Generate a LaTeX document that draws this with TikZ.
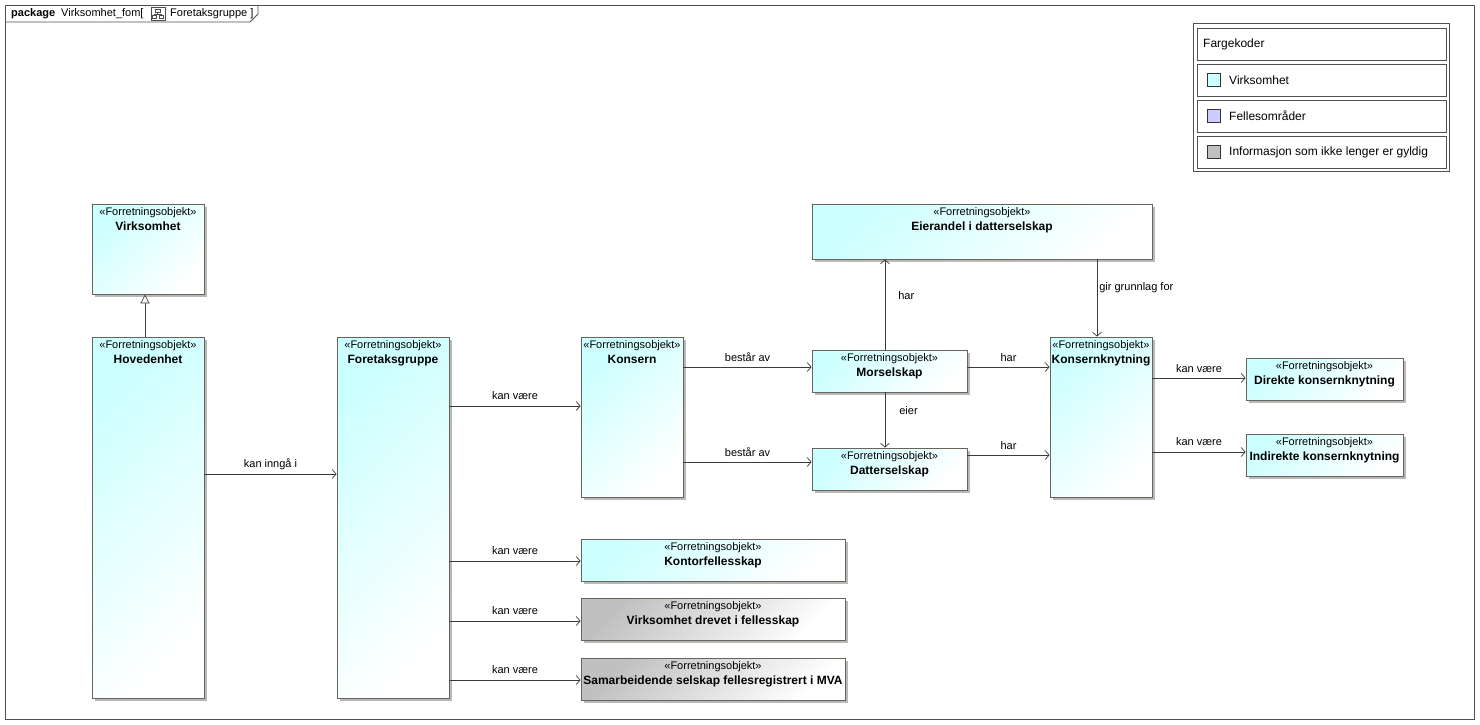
\documentclass[tikz,border=0pt]{standalone}
\usepackage{fontspec}
\setmainfont{Liberation Sans}
\usetikzlibrary{arrows.meta,shadows,calc}
\definecolor{bordc}{RGB}{105,100,90}
\definecolor{cyanb}{RGB}{204,255,255}
\definecolor{grayb}{RGB}{192,192,192}
\definecolor{lavb}{RGB}{204,204,255}
\definecolor{linec}{RGB}{60,60,60}
\definecolor{shadc}{RGB}{185,185,185}
\definecolor{framec}{RGB}{80,80,80}
\newcommand{\fobj}[1]{«Forretningsobjekt»\\{\bfseries\fontsize{12}{15}\selectfont #1}}
\begin{document}
\begin{tikzpicture}[x=1pt,y=-1pt,
  font=\fontsize{11}{15}\selectfont,
  box/.style={draw=bordc, line width=0.8pt, inner sep=0pt,
    general shadow={fill=shadc, shadow xshift=3pt, shadow yshift=-3pt}},
  cbox/.style={box, top color=cyanb, bottom color=white, shading angle=45},
  gbox/.style={box, top color=grayb, bottom color=white, shading angle=45},
  ttl/.style={anchor=north, align=center, inner sep=3.5pt, font=\fontsize{11}{15}\selectfont},
  conn/.style={draw=linec, line width=0.7pt, -{Straight Barb[length=4pt,width=9pt,line width=0.7pt]}},
  gen/.style={draw=linec, line width=0.7pt, -{Triangle[open,length=9pt,width=9pt,line width=0.7pt,fill=white]}},
  lbl/.style={inner sep=1pt, font=\fontsize{11}{12}\selectfont},
  lrow/.style={draw=framec, line width=0.7pt, minimum width=249, minimum height=32, inner sep=0pt},
  sw/.style={draw=black!80, line width=0.6pt, minimum width=13, minimum height=13, inner sep=0pt},
  ltx/.style={anchor=west, inner sep=0pt, font=\fontsize{12}{14}\selectfont},
  hdr/.style={anchor=west, inner sep=0pt, font=\fontsize{11}{12}\selectfont},
]
\useasboundingbox (0,0) rectangle (1480,725);
\fill[white] (0,0) rectangle (1480,725);
% frame
\draw[framec, line width=0.8pt] (5,5) rectangle (1474,719);
\draw[framec, line width=0.8pt] (5,22) -- (250,22) -- (258,14) -- (258,5);
\node[hdr] (pkg) at (11,14) {\textbf{package}\hspace{6pt}Virksomhet\_fom[};
\node[draw=black!70, fill=white, line width=0.6pt, minimum width=14, minimum height=13, inner sep=0pt] (icon) at (158,14) {};
\draw[black!70, line width=0.5pt] (155,9) rectangle (160,12) (152,15.5) rectangle (156,18.5) (159,15.5) rectangle (163,18.5)
  (157.5,12) -- (157.5,14) (154,14) -- (161,14) (154,14) -- (154,15.5) (161,14) -- (161,15.5);
\node[hdr] (pkg2) at (170,14) {Foretaksgruppe ]};

% legend
\node[draw=framec, line width=0.7pt, minimum width=256, minimum height=148, inner sep=0pt] (leg) at (1321,97) {};
\node[lrow] (lg0) at (1321.5,44) {};
\node[lrow] (lg1) at (1321.5,80) {};
\node[lrow] (lg2) at (1321.5,116) {};
\node[lrow] (lg3) at (1321.5,152) {};
\node[ltx] (lt0) at (1203,44) {Fargekoder};
\node[sw, fill=cyanb] (s1) at (1213.5,80) {};
\node[sw, fill=lavb] (s2) at (1213.5,116) {};
\node[sw, fill=grayb] (s3) at (1213.5,152) {};
\node[ltx] (lt1) at (1229,80) {Virksomhet};
\node[ltx] (lt2) at (1229,116) {Fellesområder};
\node[ltx] (lt3) at (1229,152) {Informasjon som ikke lenger er gyldig};

% boxes
\node[cbox, minimum width=112, minimum height=90, label={[ttl]north:\fobj{Virksomhet}}] (virk) at (148,249) {};
\node[cbox, minimum width=112, minimum height=361, label={[ttl]north:\fobj{Hovedenhet}}] (hov) at (148,517.5) {};
\node[cbox, minimum width=112, minimum height=361, label={[ttl]north:\fobj{Foretaksgruppe}}] (fore) at (393,517.5) {};
\node[cbox, minimum width=102, minimum height=160, label={[ttl]north:\fobj{Konsern}}] (kons) at (632,417) {};
\node[cbox, minimum width=340, minimum height=55, label={[ttl]north:\fobj{Eierandel i datterselskap}}] (eier) at (982,231.5) {};
\node[cbox, minimum width=155, minimum height=42, label={[ttl]north:\fobj{Morselskap}}] (mors) at (889.5,371) {};
\node[cbox, minimum width=155, minimum height=42, label={[ttl]north:\fobj{Datterselskap}}] (datt) at (889.5,469) {};
\node[cbox, minimum width=102, minimum height=160, label={[ttl]north:\fobj{Konsernknytning}}] (knyt) at (1101,417) {};
\node[cbox, minimum width=157, minimum height=42, label={[ttl]north:\fobj{Direkte konsernknytning}}] (dir) at (1324.5,379) {};
\node[cbox, minimum width=157, minimum height=42, label={[ttl]north:\fobj{Indirekte konsernknytning}}] (indir) at (1324.5,455) {};
\node[cbox, minimum width=264, minimum height=42, label={[ttl]north:\fobj{Kontorfellesskap}}] (kontor) at (713,560) {};
\node[gbox, minimum width=264, minimum height=42, label={[ttl]north:\fobj{Virksomhet drevet i fellesskap}}] (drevet) at (713,619) {};
\node[gbox, minimum width=264, minimum height=42, label={[ttl]north:\fobj{Samarbeidende selskap fellesregistrert i MVA}}] (samar) at (713,679) {};

% connectors
\draw[gen] (hov.north -| 145,0) -- (virk.south -| 145,0);
\draw[conn] (hov.east |- 0,474) -- node[lbl, yshift=10]{kan inngå i} (fore.west |- 0,474);
\draw[conn] (fore.east |- 0,406) -- node[lbl, yshift=10]{kan være} (kons.west |- 0,406);
\draw[conn] (fore.east |- 0,561) -- node[lbl, yshift=10]{kan være} (kontor.west |- 0,561);
\draw[conn] (fore.east |- 0,621) -- node[lbl, yshift=10]{kan være} (drevet.west |- 0,621);
\draw[conn] (fore.east |- 0,680) -- node[lbl, yshift=10]{kan være} (samar.west |- 0,680);
\draw[conn] (kons.east |- 0,367) -- node[lbl, yshift=10]{består av} (mors.west |- 0,367);
\draw[conn] (kons.east |- 0,462) -- node[lbl, yshift=10]{består av} (datt.west |- 0,462);
\draw[conn] (mors.north -| 885,0) -- node[lbl, anchor=west, xshift=12, yshift=9]{har} (eier.south -| 885,0);
\draw[conn] (mors.south -| 885,0) -- node[lbl, anchor=west, xshift=13, yshift=9]{eier} (datt.north -| 885,0);
\draw[conn] (mors.east |- 0,367) -- node[lbl, yshift=9]{har} (knyt.west |- 0,367);
\draw[conn] (datt.east |- 0,455) -- node[lbl, yshift=9]{har} (knyt.west |- 0,455);
\draw[conn] (eier.south -| 1097,0) -- node[lbl, anchor=west, xshift=1, yshift=10]{gir grunnlag for} (knyt.north -| 1097,0);
\draw[conn] (knyt.east |- 0,378) -- node[lbl, yshift=9]{kan være} (dir.west |- 0,378);
\draw[conn] (knyt.east |- 0,452) -- node[lbl, yshift=10]{kan være} (indir.west |- 0,452);
\end{tikzpicture}
\end{document}
